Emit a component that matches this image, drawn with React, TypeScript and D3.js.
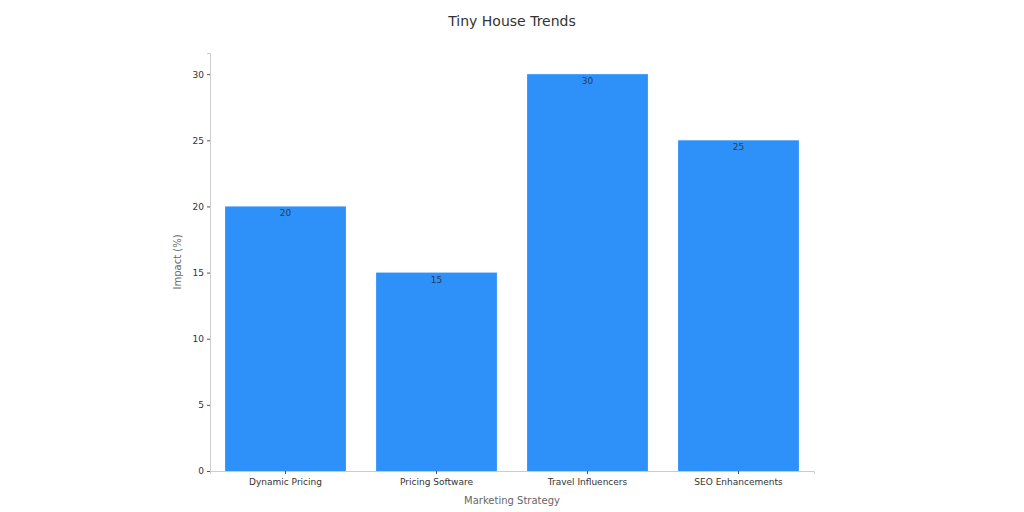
import { useEffect, useRef } from "react";
import * as d3 from "d3";

const strategies = ["Dynamic Pricing", "Pricing Software", "Travel Influencers", "SEO Enhancements"];
const impacts = [20, 15, 30, 25];
const yTicks = [0, 5, 10, 15, 20, 25, 30];

const W = 1024;
const H = 512;
const margin = { top: 53, right: 210, bottom: 41, left: 210 };

export default function App() {
  const gRef = useRef<SVGGElement>(null);

  useEffect(() => {
    if (!gRef.current) return;
    const g = d3.select(gRef.current);
    g.selectAll("*").remove();

    const iw = W - margin.left - margin.right;
    const ih = H - margin.top - margin.bottom;

    const x = d3.scaleBand().domain(strategies).range([0, iw]).paddingInner(0.2).paddingOuter(0.1);
    const y = d3.scaleLinear().domain([0, 31.6]).range([ih, 0]);

    const plot = g.append("g").attr("transform", `translate(${margin.left},${margin.top})`);

    plot.selectAll("rect.bar")
      .data(strategies)
      .join("rect")
        .attr("class", "bar")
        .attr("x", (d) => x(d)!)
        .attr("width", x.bandwidth())
        .attr("y", (d, i) => y(impacts[i]))
        .attr("height", (d, i) => ih - y(impacts[i]))
        .attr("fill", "#2d91f9");

    plot.selectAll("text.val")
      .data(strategies)
      .join("text")
        .attr("class", "val")
        .attr("x", (d) => x(d)! + x.bandwidth() / 2)
        .attr("y", (d, i) => y(impacts[i]) + 10)
        .attr("text-anchor", "middle")
        .attr("font-size", 9)
        .attr("fill", "#2b3a55")
        .text((d, i) => impacts[i]);

    const yAxis = plot.append("g")
      .call(d3.axisLeft(y).tickValues(yTicks).tickSize(3).tickPadding(3));
    yAxis.select(".domain").attr("stroke", "#cccccc");
    yAxis.selectAll(".tick line").attr("stroke", "#555");
    yAxis.selectAll(".tick text").attr("font-size", 9).attr("fill", "#333").attr("font-family", "DejaVu Sans");

    const xAxis = plot.append("g")
      .attr("transform", `translate(0,${ih})`)
      .call(d3.axisBottom(x).tickSizeOuter(0).tickSize(3).tickPadding(5));
    xAxis.select(".domain").attr("stroke", "#cccccc");
    xAxis.selectAll(".tick line").attr("stroke", "#555");
    xAxis.selectAll(".tick text").attr("font-size", 9).attr("fill", "#333").attr("font-family", "DejaVu Sans");

    g.append("text")
      .attr("x", W / 2)
      .attr("y", 26)
      .attr("text-anchor", "middle")
      .attr("font-size", 14)
      .attr("fill", "#333")
      .text("Tiny House Trends");

    g.append("text")
      .attr("x", margin.left + iw / 2)
      .attr("y", 504)
      .attr("text-anchor", "middle")
      .attr("font-size", 10)
      .attr("fill", "#666")
      .text("Marketing Strategy");

    g.append("text")
      .attr("transform", `translate(181,${margin.top + ih / 2}) rotate(-90)`)
      .attr("text-anchor", "middle")
      .attr("font-size", 10)
      .attr("fill", "#666")
      .text("Impact (%)");
  }, []);

  return (
    <svg width={W} height={H} style={{ position: "absolute", left: 0, top: 0, background: "#fff" }}
      fontFamily="DejaVu Sans">
      <g ref={gRef}></g>
    </svg>
  );
}
